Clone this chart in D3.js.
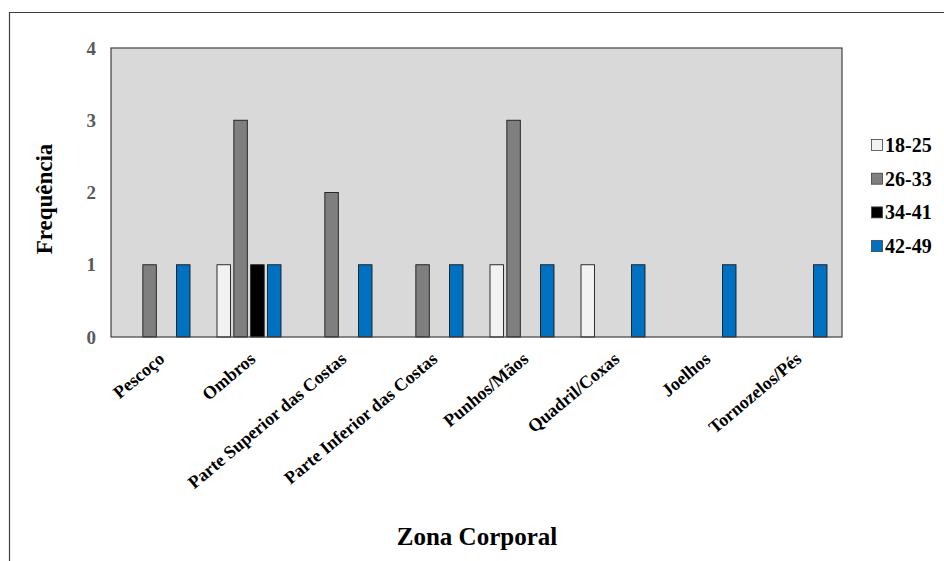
<!DOCTYPE html>
<html>
<head>
<meta charset="utf-8">
<script src="https://cdn.jsdelivr.net/npm/d3@7"></script>
<style>
  body { margin: 0; background: #fff; }
  text { font-family: "Liberation Serif", "Times New Roman", serif; font-weight: bold; }
</style>
</head>
<body>
<div id="chart"></div>
<script>
const categories = ['Pescoço', 'Ombros', 'Parte Superior das Costas', 'Parte Inferior das Costas',
  'Punhos/Mãos', 'Quadril/Coxas', 'Joelhos', 'Tornozelos/Pés'];
const seriesNames = ['18-25', '26-33', '34-41', '42-49'];
const v18_25 = [0, 1, 0, 0, 1, 1, 0, 0];
const v26_33 = [1, 3, 2, 1, 3, 0, 0, 0];
const v34_41 = [0, 1, 0, 0, 0, 0, 0, 0];
const v42_49 = [1, 1, 1, 1, 1, 1, 1, 1];
const yTicks = [0, 1, 2, 3, 4];
const colors = ['#f2f2f2', '#7f7f7f', '#000000', '#0070c0'];

const series = [v18_25, v26_33, v34_41, v42_49];
const width = 944, height = 561;
const plot = { left: 111, right: 842, top: 48, bottom: 337 };

const svg = d3.select('#chart').append('svg')
  .attr('width', width)
  .attr('height', height);

// outer frame
svg.append('path')
  .attr('d', `M9.5,${height} V12.5 H${width}`)
  .attr('fill', 'none')
  .attr('stroke', '#404040')
  .attr('stroke-width', 1.2);

const x = d3.scaleBand()
  .domain(categories)
  .range([plot.left, 839]);

const xInner = d3.scaleBand()
  .domain(seriesNames)
  .range([15, 79])
  .paddingInner(0.2);

const y = d3.scaleLinear()
  .domain([0, 4])
  .range([plot.bottom, plot.top]);

svg.append('rect')
  .attr('x', plot.left)
  .attr('y', plot.top)
  .attr('width', plot.right - plot.left)
  .attr('height', plot.bottom - plot.top)
  .attr('fill', '#d9d9d9');

const rows = categories.map((c, i) => ({ cat: c, vals: series.map((s, j) => ({ name: seriesNames[j], v: s[i], color: colors[j] })) }));

const g = svg.selectAll('g.cat')
  .data(rows)
  .enter()
  .append('g')
  .attr('class', 'cat')
  .attr('transform', d => `translate(${x(d.cat)},0)`);

g.selectAll('rect')
  .data(d => d.vals.filter(e => e.v > 0))
  .enter()
  .append('rect')
  .attr('x', d => xInner(d.name))
  .attr('width', xInner.bandwidth())
  .attr('y', d => y(d.v))
  .attr('height', d => y(0) - y(d.v))
  .attr('fill', d => d.color)
  .attr('stroke', '#1a1a1a')
  .attr('stroke-width', 0.9);

// plot border
svg.append('rect')
  .attr('x', plot.left)
  .attr('y', plot.top)
  .attr('width', plot.right - plot.left)
  .attr('height', plot.bottom - plot.top)
  .attr('fill', 'none')
  .attr('stroke', '#404040')
  .attr('stroke-width', 1.2);

// y axis
const yAxis = svg.append('g')
  .attr('transform', `translate(${plot.left},0)`)
  .call(d3.axisLeft(y).tickValues(yTicks).tickFormat(d3.format('d')).tickSize(0).tickPadding(15));
yAxis.select('.domain').remove();
yAxis.selectAll('text')
  .attr('fill', '#595959')
  .style('font-size', '19px')
  .style('font-family', '"Liberation Serif", serif')
  .style('font-weight', 'bold');

// x axis
const xAxis = svg.append('g')
  .attr('transform', `translate(0,${plot.bottom})`)
  .call(d3.axisBottom(x).tickSize(0).tickPadding(0));
xAxis.select('.domain').remove();
xAxis.selectAll('text')
  .attr('fill', '#000')
  .style('font-size', '18px')
  .style('font-family', '"Liberation Serif", serif')
  .style('font-weight', 'bold')
  .attr('text-anchor', 'end')
  .attr('y', 0)
  .attr('dy', '0.35em')
  .attr('transform', 'translate(5,19) rotate(-40)');

// axis titles
svg.append('text')
  .attr('transform', `translate(52,199) rotate(-90)`)
  .attr('text-anchor', 'middle')
  .style('font-size', '23px')
  .text('Frequência');

svg.append('text')
  .attr('x', 477)
  .attr('y', 545)
  .attr('text-anchor', 'middle')
  .style('font-size', '25px')
  .text('Zona Corporal');

// legend
const legend = svg.selectAll('g.leg')
  .data(seriesNames)
  .enter()
  .append('g')
  .attr('class', 'leg')
  .attr('transform', (d, i) => `translate(871,${145 + i * 33.7})`);

legend.append('rect')
  .attr('x', 0.5)
  .attr('y', -5.5)
  .attr('width', 11)
  .attr('height', 11)
  .attr('fill', (d, i) => colors[i])
  .attr('stroke', '#404040')
  .attr('stroke-width', 0.8);

legend.append('text')
  .attr('x', 14)
  .attr('y', 7)
  .style('font-size', '20px')
  .text(d => d);
</script>
</body>
</html>
